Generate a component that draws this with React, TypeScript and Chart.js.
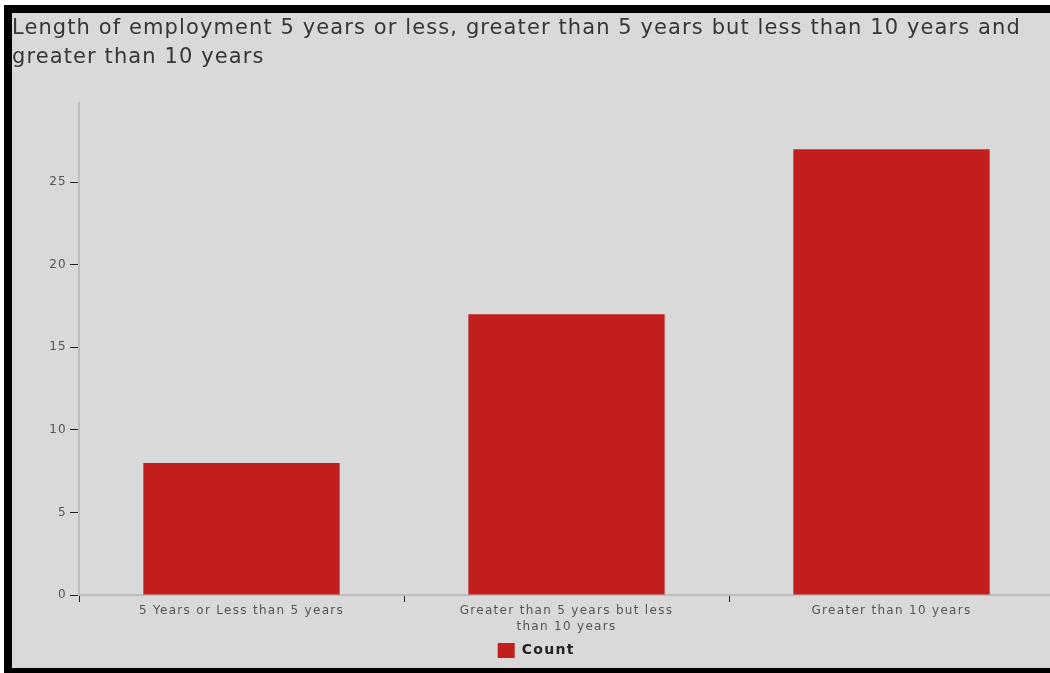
import React, { useEffect, useRef } from "react";
import { Chart, registerables } from "chart.js";

Chart.register(...registerables);

const titleLines = [
  "Length of employment 5 years or less, greater than 5 years but less than 10 years and",
  "greater than 10 years",
];
const categories: (string | string[])[] = [
  "5 Years or Less than 5 years",
  ["Greater than 5 years but less", "than 10 years"],
  "Greater than 10 years",
];
const counts = [8, 17, 27];
const yTicks = [0, 5, 10, 15, 20, 25];
const seriesName = "Count";

const FONT = "'DejaVu Sans', sans-serif";

const titlePlugin = {
  id: "customTitle",
  beforeDraw(chart: any) {
    const ctx = chart.ctx;
    ctx.letterSpacing = "1.3px";
    ctx.save();
    ctx.letterSpacing = "1.1px";
    ctx.font = `normal 21px ${FONT}`;
    ctx.fillStyle = "#363636";
    ctx.textAlign = "left";
    ctx.textBaseline = "middle";
    titleLines.forEach((line, i) => {
      ctx.fillText(line, 0, 16 + i * 29);
    });
    ctx.restore();
  },
};

export default function App() {
  const ref = useRef<HTMLCanvasElement | null>(null);
  useEffect(() => {
    if (!ref.current) return;
    const chart = new Chart(ref.current, {
      type: "bar",
      data: {
        labels: categories,
        datasets: [
          {
            label: seriesName,
            data: counts,
            backgroundColor: "#c21e1e",
            borderWidth: 0,
            categoryPercentage: 0.604,
            barPercentage: 1,
          },
        ],
      },
      options: {
        animation: false,
        responsive: false,
        maintainAspectRatio: false,
        layout: { padding: { left: 0, right: 8, top: 90, bottom: 0 } },
        plugins: {
          title: { display: false },
          legend: {
            position: "bottom",
            labels: {
              color: "#222",
              font: { family: FONT, size: 14, weight: "bold" },
              boxWidth: 17,
              boxHeight: 15,
              padding: 4,
            },
          },
          tooltip: { enabled: false },
        },
        scales: {
          x: {
            grid: {
              display: true,
              drawOnChartArea: false,
              drawTicks: true,
              tickLength: 7,
              tickColor: "#222",
              offset: true,
            },
            border: { color: "#bdbdbd", width: 2 },
            ticks: {
              color: "#555",
              font: { family: FONT, size: 12, lineHeight: 1.33 },
              maxRotation: 0,
              autoSkip: false,
              padding: 1,
            },
            afterFit: (s: any) => {
              s.height = 44;
            },
          },
          y: {
            min: 0,
            max: 29.8,
            afterBuildTicks: (s: any) => {
              s.ticks = yTicks.map((v) => ({ value: v }));
            },
            grid: {
              display: true,
              drawOnChartArea: false,
              tickLength: 9,
              tickColor: "#222",
            },
            border: { color: "#bdbdbd", width: 2 },
            ticks: {
              color: "#555",
              font: { family: FONT, size: 12 },
              padding: 3,
            },
            afterFit: (s: any) => {
              s.width = 67;
            },
          },
        },
      },
      plugins: [titlePlugin],
    });
    return () => chart.destroy();
  }, []);

  return (
    <div
      style={{
        position: "fixed",
        left: 4,
        top: 5,
        right: 0,
        bottom: 0,
        borderLeft: "8px solid #000",
        borderTop: "8px solid #000",
        borderBottom: "5px solid #000",
        background: "#d9d9d9",
        overflow: "hidden",
      }}
    >
      <canvas ref={ref} width={1050} height={655} style={{ display: "block" }} />
    </div>
  );
}
